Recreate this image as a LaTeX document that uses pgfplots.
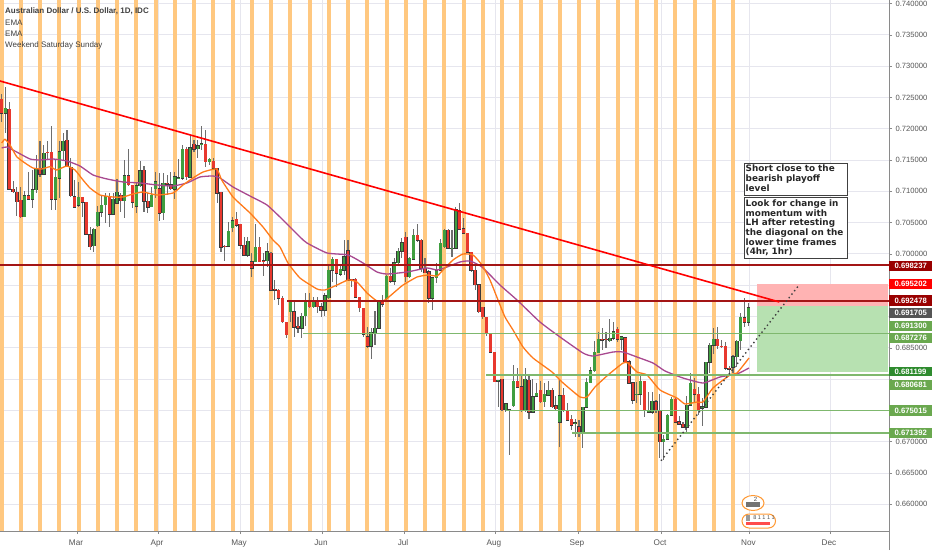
\documentclass[border=0pt]{standalone}
\usepackage{fontspec}
\setmainfont{Liberation Sans}
\newfontfamily\annofont{DejaVu Sans}
\usepackage{pgfplots}
\usepackage{pgfplotstable}
\pgfplotsset{compat=1.18}
\definecolor{gridc}{HTML}{E6E6EE}
\definecolor{axisc}{HTML}{8A8A8A}
\definecolor{tickt}{HTML}{555555}
\definecolor{band}{HTML}{FFC880}
\definecolor{candr}{HTML}{E8382E}
\definecolor{candg}{HTML}{3F9E3F}
\definecolor{candb}{HTML}{3A3A3A}
\definecolor{wick}{HTML}{6E6E6E}
\definecolor{ema1}{HTML}{FF7A1A}
\definecolor{ema2}{HTML}{A8488F}
\definecolor{dred}{HTML}{A31515}
\definecolor{lgreen}{HTML}{7FB86E}
\definecolor{boxg}{HTML}{6AA84F}
\definecolor{boxdg}{HTML}{2E8B2E}
\definecolor{boxdr}{HTML}{990000}
\definecolor{posr}{HTML}{FFB3B3}
\definecolor{posg}{HTML}{B7E1B1}

% i top-of-body bottom-of-body high low
\pgfplotstableread{
i t b h l
1 0.72325 0.72245 0.72661 0.71937
6 0.70930 0.70595 0.71010 0.70584
8 0.71021 0.70872 0.71340 0.70728
9 0.71367 0.71021 0.71580 0.70967
11 0.71606 0.71271 0.71740 0.71260
14 0.71228 0.70872 0.71500 0.70700
15 0.71633 0.71207 0.71803 0.70888
16 0.71803 0.71644 0.71937 0.71500
20 0.70904 0.70781 0.71154 0.70744
24 0.70392 0.70131 0.70408 0.70036
25 0.70669 0.70446 0.70765 0.70435
26 0.70776 0.70664 0.70941 0.70595
27 0.70914 0.70786 0.70967 0.70488
29 0.70872 0.70632 0.70967 0.70621
30 0.70983 0.70808 0.71191 0.70797
32 0.71250 0.70850 0.71500 0.70568
35 0.71090 0.70765 0.71154 0.70659
36 0.71330 0.71090 0.71484 0.71074
39 0.70941 0.70755 0.71074 0.70744
40 0.71154 0.71037 0.71314 0.70888
42 0.71127 0.70659 0.71298 0.70542
45 0.71234 0.71031 0.71303 0.70872
46 0.71218 0.71202 0.71511 0.71191
47 0.71670 0.71207 0.71740 0.71180
49 0.71692 0.71223 0.71899 0.71207
51 0.71724 0.71681 0.71820 0.71527
52 0.71756 0.71745 0.72043 0.71660
54 0.71511 0.71473 0.71527 0.71420
59 0.70366 0.70126 0.70504 0.70115
60 0.70531 0.70419 0.70595 0.70355
64 0.70206 0.69982 0.70275 0.69956
66 0.70105 0.69876 0.70478 0.69876
69 0.70036 0.69887 0.70179 0.69796
75 0.69237 0.69077 0.69264 0.68918
78 0.69008 0.68811 0.69050 0.68651
79 0.69226 0.69013 0.69370 0.68848
81 0.69237 0.69157 0.69317 0.69130
84 0.69333 0.69104 0.69370 0.69013
85 0.69743 0.69301 0.69823 0.69280
86 0.69918 0.69743 0.69956 0.69556
88 0.69753 0.69679 0.69823 0.69647
89 0.69956 0.69743 0.70222 0.69663
96 0.68747 0.68529 0.68811 0.68316
97 0.68811 0.68742 0.69088 0.68545
98 0.69226 0.68811 0.69237 0.68800
100 0.69647 0.69280 0.69663 0.69264
102 0.69860 0.69567 0.69929 0.69503
103 0.70046 0.69860 0.70089 0.69823
104 0.70179 0.70046 0.70249 0.69929
106 0.69929 0.69636 0.69956 0.69610
107 0.70302 0.69913 0.70392 0.69903
112 0.69620 0.69290 0.69636 0.69104
113 0.69732 0.69620 0.69849 0.69530
114 0.70169 0.69743 0.70233 0.69732
115 0.70382 0.70115 0.70392 0.70100
117 0.70089 0.70079 0.70382 0.69956
118 0.70702 0.70089 0.70755 0.70073
129 0.67981 0.67970 0.67986 0.67560
131 0.67603 0.67507 0.67613 0.67480
133 0.67970 0.67576 0.68226 0.67560
136 0.67997 0.67496 0.68172 0.67480
138 0.67720 0.67469 0.67997 0.67453
139 0.67773 0.67730 0.67943 0.67720
141 0.67762 0.67640 0.67943 0.67549
142 0.67826 0.67746 0.67975 0.67730
145 0.67736 0.67310 0.67997 0.66910
149 0.67304 0.67294 0.67363 0.67081
151 0.67549 0.67155 0.67560 0.66894
152 0.67949 0.67549 0.68013 0.67539
153 0.68135 0.67943 0.68199 0.67933
154 0.68428 0.68135 0.68614 0.68119
155 0.68636 0.68423 0.68758 0.68412
158 0.68651 0.68614 0.68954 0.68598
159 0.68757 0.68651 0.68917 0.68624
161 0.68677 0.68640 0.68694 0.68465
165 0.67762 0.67751 0.67959 0.67613
166 0.67969 0.67756 0.68065 0.67586
168 0.67490 0.67469 0.67799 0.67453
169 0.67650 0.67469 0.67799 0.67442
172 0.67043 0.67000 0.67107 0.66707
173 0.67426 0.67043 0.67442 0.67027
174 0.67676 0.67426 0.67719 0.67410
178 0.67586 0.67229 0.67730 0.67123
179 0.67932 0.67586 0.68092 0.67586
182 0.67559 0.67533 0.67692 0.67250
183 0.68267 0.67549 0.68278 0.67533
184 0.68544 0.68267 0.68571 0.68102
185 0.68635 0.68539 0.68811 0.68401
190 0.68358 0.68188 0.68385 0.68092
191 0.68608 0.68358 0.68624 0.68198
192 0.68986 0.68614 0.69050 0.68465
194 0.69140 0.68906 0.69210 0.68848
}\upbars
\pgfplotstableread{
i t b h l
0 0.72474 0.72245 0.72554 0.72112
2 0.72309 0.71031 0.72432 0.71031
3 0.71031 0.70994 0.71165 0.70967
4 0.70983 0.70834 0.71074 0.70605
5 0.70861 0.70595 0.71063 0.70568
7 0.70930 0.70872 0.71314 0.70861
10 0.71367 0.71271 0.71809 0.71234
12 0.71622 0.71612 0.71809 0.71500
13 0.71622 0.70877 0.72049 0.70700
17 0.71819 0.71404 0.71979 0.71383
18 0.71383 0.70930 0.71527 0.70904
19 0.70914 0.70744 0.71181 0.70728
21 0.70904 0.70824 0.70914 0.70595
22 0.70824 0.70313 0.70829 0.70302
23 0.70307 0.70115 0.70435 0.70062
28 0.70914 0.70637 0.70967 0.70424
31 0.70941 0.70850 0.70967 0.70675
33 0.71250 0.71101 0.71676 0.71085
34 0.71095 0.70824 0.71095 0.70728
37 0.71340 0.70845 0.71404 0.70675
38 0.70845 0.70744 0.70967 0.70648
41 0.71037 0.70648 0.71287 0.70531
43 0.71127 0.71111 0.71260 0.70941
44 0.71101 0.71037 0.71314 0.71021
48 0.71670 0.71234 0.71713 0.71180
50 0.71750 0.71670 0.71820 0.71633
53 0.71750 0.71473 0.71979 0.71393
55 0.71484 0.71367 0.71527 0.71340
56 0.71367 0.70967 0.71367 0.70818
57 0.70983 0.70110 0.70989 0.70036
58 0.70126 0.70115 0.70142 0.69892
61 0.70552 0.70456 0.70675 0.70435
62 0.70472 0.70142 0.70478 0.70073
63 0.70142 0.69982 0.70275 0.69966
65 0.69876 0.69769 0.70009 0.69626
67 0.70110 0.69876 0.70275 0.69871
68 0.69892 0.69876 0.70009 0.69647
70 0.70009 0.69423 0.70036 0.69413
71 0.69434 0.69423 0.69583 0.69263
72 0.69423 0.69290 0.69434 0.69184
73 0.69290 0.68918 0.69327 0.68891
74 0.68907 0.68705 0.68918 0.68651
76 0.69077 0.68827 0.69237 0.68678
77 0.68848 0.68811 0.68997 0.68731
80 0.69226 0.69157 0.69370 0.69130
82 0.69237 0.69157 0.69317 0.69050
83 0.69157 0.69104 0.69210 0.68997
87 0.69913 0.69690 0.69918 0.69476
90 0.70052 0.69583 0.70222 0.69583
91 0.69594 0.69583 0.69604 0.69476
92 0.69599 0.69306 0.69620 0.69290
93 0.69306 0.69141 0.69317 0.69077
94 0.69130 0.68715 0.69130 0.68678
95 0.68678 0.68529 0.68838 0.68491
99 0.69237 0.69199 0.69343 0.69157
101 0.69647 0.69567 0.69769 0.69530
105 0.70265 0.69636 0.70355 0.69556
108 0.70302 0.70222 0.70478 0.70195
109 0.70222 0.69769 0.70233 0.69716
110 0.69769 0.69700 0.69929 0.69690
111 0.69716 0.69290 0.69743 0.69210
116 0.70382 0.70089 0.70392 0.70073
119 0.70691 0.70398 0.70808 0.70382
120 0.70398 0.70329 0.70568 0.70329
121 0.70329 0.70025 0.70340 0.70009
122 0.70025 0.69743 0.70036 0.69717
123 0.69743 0.69504 0.69823 0.69424
124 0.69504 0.69078 0.69514 0.69051
125 0.69147 0.68998 0.69158 0.68955
126 0.68987 0.68731 0.68998 0.68689
127 0.68715 0.68428 0.68721 0.68412
128 0.68428 0.67959 0.68439 0.67949
130 0.67997 0.67507 0.68002 0.67491
132 0.67507 0.67496 0.67507 0.66788
134 0.67970 0.67869 0.68172 0.67853
135 0.67880 0.67496 0.68077 0.67480
137 0.67986 0.67469 0.68066 0.67363
140 0.67826 0.67640 0.67975 0.67624
143 0.67826 0.67560 0.67853 0.67544
144 0.67571 0.67528 0.67730 0.67507
146 0.67746 0.67507 0.67853 0.67480
147 0.67496 0.67347 0.67613 0.67336
148 0.67358 0.67267 0.67427 0.67187
150 0.67241 0.67161 0.67347 0.67081
156 0.68635 0.68624 0.68811 0.68465
157 0.68640 0.68630 0.68757 0.68491
160 0.68800 0.68640 0.68837 0.68598
162 0.68662 0.68278 0.68667 0.68262
163 0.68278 0.67932 0.68305 0.67921
164 0.67943 0.67666 0.67959 0.67597
167 0.67969 0.67506 0.67975 0.67399
170 0.67639 0.67506 0.67666 0.67453
171 0.67495 0.67000 0.67762 0.66734
175 0.67676 0.67309 0.67692 0.67293
176 0.67320 0.67277 0.67410 0.67266
177 0.67282 0.67229 0.67320 0.67213
180 0.67841 0.67762 0.68012 0.67613
181 0.67762 0.67506 0.67879 0.67426
186 0.68635 0.68534 0.68827 0.68475
187 0.68528 0.68518 0.68624 0.68491
188 0.68528 0.68172 0.68598 0.68145
189 0.68172 0.68161 0.68209 0.68092
193 0.68981 0.68906 0.69290 0.68837
}\downbars
\pgfplotstableread{
x p
1.7 0.71772
5 0.71831
10 0.71740
16.7 0.71553
25 0.71452
33 0.71372
41.7 0.71356
50 0.71393
56.7 0.71340
66.7 0.71404
75 0.71340
83 0.71181
90 0.71053
100 0.70941
113 0.70909
123 0.70909
133 0.70957
143 0.70989
157 0.70941
173 0.70973
183 0.71101
193 0.71213
203 0.71308
216.7 0.71356
221.7 0.71181
233 0.70909
250 0.70654
263 0.70430
273 0.70222
280 0.70110
288 0.69855
300 0.69615
317 0.69440
325 0.69424
337 0.69503
348 0.69583
357 0.69551
367 0.69376
377 0.69248
385 0.69264
397 0.69424
403 0.69503
417 0.69631
428 0.69663
437 0.69647
443 0.69743
453 0.69903
463 0.69999
473 0.69983
482 0.69823
490 0.69583
498 0.69264
505 0.68992
513 0.68785
523 0.68513
533 0.68337
552 0.68114
562 0.67954
580 0.67714
587 0.67714
595 0.67874
608 0.68066
623 0.68257
628 0.68257
637 0.68114
647 0.68066
660 0.67826
677 0.67698
685 0.67603
697 0.67634
703 0.67634
713 0.67858
730 0.68066
737 0.68098
749 0.68337
}\emafast
\pgfplotstableread{
x p
1.7 0.71692
6.7 0.71708
16.7 0.71628
30 0.71516
40 0.71500
53 0.71516
67 0.71484
80 0.71404
93 0.71261
107 0.71197
123 0.71149
140 0.71133
157 0.71101
173 0.71085
187 0.71133
200 0.71229
213 0.71245
220 0.71213
233 0.71069
250 0.70925
267 0.70781
283 0.70542
300 0.70270
307 0.70174
327 0.70015
348 0.69983
363 0.69855
377 0.69711
387 0.69679
407 0.69711
427 0.69775
437 0.69743
447 0.69791
460 0.69871
470 0.69887
482 0.69791
500 0.69503
517 0.69264
540 0.68912
560 0.68673
583 0.68417
593 0.68369
613 0.68433
623 0.68433
637 0.68353
653 0.68257
665 0.68130
683 0.68018
703 0.67938
720 0.68034
737 0.68082
749 0.68178
}\emaslow

\newcommand{\pricebox}[4]{%
  \fill[#3] (889pt,{(550-#1)*1pt}) rectangle (932pt,{(550-#2)*1pt});
  \node[anchor=west,inner sep=0pt,text=white,font=\fontsize{7.7}{9}\selectfont\bfseries]
    at (894.5pt,{(550-(#1+#2)/2)*1pt}) {#4};}

\begin{document}
\begin{tikzpicture}
\path[use as bounding box] (0pt,0pt) rectangle (932pt,550pt);
\begin{axis}[
  at={(0pt,19pt)}, anchor=south west, scale only axis,
  width=889pt, height=531pt,
  xmin=0, xmax=889, ymin=0.65574, ymax=0.74056,
  axis x line*=bottom, axis y line*=right,
  axis line style={axisc, line width=0.8pt},
  tick align=outside, tickwidth=3pt,
  tick style={axisc, line width=0.6pt},
  grid=major, grid style={gridc, line width=0.9pt},
  xtick={77,158,240,322,404,495,578,661,749.5,830},
  xticklabels={Mar,Apr,May,Jun,Jul,Aug,Sep,Oct,Nov,Dec},
  xticklabel style={font=\fontsize{8.2}{10}\selectfont, text=tickt, yshift=-2pt, xshift=-1pt},
  ytick={0.66,0.665,0.67,0.675,0.68,0.685,0.69,0.695,0.70,0.705,0.71,0.715,0.72,0.725,0.73,0.735,0.74},
  yticklabels={0.660000,0.665000,0.670000,,,0.685000,,,0.700000,0.705000,0.710000,0.715000,0.720000,0.725000,0.730000,0.735000,0.740000},
  yticklabel style={font=\fontsize{7.6}{9}\selectfont, text=tickt},
  clip=true,
]
% weekend bands
\addplot[ycomb, band, line width=4pt, mark=none, forget plot] coordinates {
(1.5,0.75)(20.75,0.75)(40,0.75)(59.25,0.75)(78.5,0.75)(97.75,0.75)(117,0.75)(136.25,0.75)(155.5,0.75)(174.75,0.75)
(194,0.75)(213.25,0.75)(232.5,0.75)(251.75,0.75)(271,0.75)(290.25,0.75)(309.5,0.75)(328.75,0.75)(348,0.75)(367.25,0.75)
(386.5,0.75)(405.75,0.75)(425,0.75)(444.25,0.75)(463.5,0.75)(482.75,0.75)(502,0.75)(521.25,0.75)(540.5,0.75)(559.75,0.75)
(579,0.75)(598.25,0.75)(617.5,0.75)(636.75,0.75)(656,0.75)(675.25,0.75)(694.5,0.75)(713.75,0.75)(733,0.75)};
% wicks
\pgfplotsset{wickstyle/.style={draw=none, mark=none, forget plot,
   error bars/.cd, y dir=both, y explicit, error mark=none,
   error bar style={draw=wick, line width=1.1pt, solid}}}
\addplot[wickstyle] table[x expr=1.5+3.85*\thisrow{i}, y=t, y error plus expr=\thisrow{h}-\thisrow{t}, y error minus expr=\thisrow{t}-\thisrow{l}] {\upbars};
\addplot[wickstyle] table[x expr=1.5+3.85*\thisrow{i}, y=t, y error plus expr=\thisrow{h}-\thisrow{t}, y error minus expr=\thisrow{t}-\thisrow{l}] {\downbars};
% bodies: outline then fill
\pgfplotsset{bodyline/.style={draw=none, mark=none, forget plot,
   error bars/.cd, y dir=both, y explicit, error mark=none,
   error bar style={draw=candb, line width=3.5pt, solid}},
   bodyfill/.style 2 args={draw=none, mark=none, forget plot,
   error bars/.cd, y dir=minus, y explicit, error mark=none,
   error bar style={draw=#1, line width=#2, solid}}}
\addplot[bodyline] table[x expr=1.5+3.85*\thisrow{i}, y=t, y error plus expr=0.00008, y error minus expr=\thisrow{t}-\thisrow{b}+0.00008] {\upbars};
\addplot[bodyline] table[x expr=1.5+3.85*\thisrow{i}, y=t, y error plus expr=0.00008, y error minus expr=\thisrow{t}-\thisrow{b}+0.00008] {\downbars};
\addplot[bodyfill={candg}{2.6pt}] table[x expr=1.5+3.85*\thisrow{i}, y=t, y error minus expr=\thisrow{t}-\thisrow{b}] {\upbars};
\addplot[bodyfill={candr}{2.6pt}] table[x expr=1.5+3.85*\thisrow{i}, y=t, y error minus expr=\thisrow{t}-\thisrow{b}] {\downbars};
% EMAs
\addplot[ema2, line width=1.3pt, smooth, tension=0.3, mark=none, forget plot] table[x=x,y=p] {\emaslow};
\addplot[ema1, line width=1.3pt, smooth, tension=0.3, mark=none, forget plot] table[x=x,y=p] {\emafast};
% position tool
\addplot[fill=posr, draw=none, forget plot] coordinates {(757.3,0.695202)(888.3,0.695202)(888.3,0.691705)(757.3,0.691705)} --cycle;
\addplot[fill=posg, draw=none, forget plot] coordinates {(757.3,0.691705)(888.3,0.691705)(888.3,0.681199)(757.3,0.681199)} --cycle;
% horizontal levels
\addplot[dred, line width=1.2pt, forget plot] coordinates {(0,0.698237)(889,0.698237)};
\addplot[dred, line width=1.2pt, forget plot] coordinates {(287,0.692478)(889,0.692478)};
\addplot[lgreen, line width=1.6pt, forget plot] coordinates {(303,0.687276)(889,0.687276)};
\addplot[lgreen, line width=2.2pt, forget plot] coordinates {(486,0.680681)(889,0.680681)};
\addplot[lgreen, line width=1.6pt, forget plot] coordinates {(506,0.675015)(889,0.675015)};
\addplot[lgreen, line width=1.6pt, forget plot] coordinates {(572,0.671392)(889,0.671392)};
% trend lines
\addplot[red, line width=1.6pt, forget plot] coordinates {(0,0.72762)(779.3,0.69232)};
\addplot[black!75, line width=1.4pt, dash pattern=on 1.4pt off 3pt, forget plot] coordinates {(661,0.66697)(798.3,0.69487)};
\end{axis}
% legend text
\node[anchor=west,inner sep=0pt,font=\fontsize{8}{10}\selectfont\bfseries,text=black!75] at (5pt,539pt) {Australian Dollar / U.S. Dollar, 1D, IDC};
\node[anchor=west,inner sep=0pt,font=\fontsize{8}{10}\selectfont,text=black!75] at (5pt,527pt) {EMA};
\node[anchor=west,inner sep=0pt,font=\fontsize{8}{10}\selectfont,text=black!75] at (5pt,516pt) {EMA};
\node[anchor=west,inner sep=0pt,font=\fontsize{8}{10}\selectfont,text=black!75] at (5pt,504.5pt) {Weekend Saturday Sunday};
% right axis runs down to the image edge
\draw[axisc, line width=0.8pt] (889.4pt,0pt) -- (889.4pt,19pt);
% price labels
\pricebox{260.7}{270.7}{boxdr}{0.698237}
\pricebox{279.3}{288.5}{red}{0.695202}
\pricebox{295}{306}{boxdr}{0.692478}
\pricebox{308}{318}{tickt}{0.691705}
\pricebox{321}{331}{boxg}{0.691300}
\pricebox{333}{343}{boxg}{0.687276}
\pricebox{367}{376}{boxdg}{0.681199}
\pricebox{380}{390}{boxg}{0.680681}
\pricebox{405}{416}{boxg}{0.675015}
\pricebox{428}{438}{boxg}{0.671392}
% annotation boxes
\draw[black!75, line width=0.9pt, fill=white] (744pt,{(550-163.3)*1pt}) rectangle (847pt,{(550-195.3)*1pt});
\draw[black!75, line width=0.9pt, fill=white] (744pt,{(550-197.7)*1pt}) rectangle (847pt,{(550-258.7)*1pt});
\node[anchor=north west,inner sep=0pt,align=left,font=\annofont\fontsize{8.85}{9.7}\selectfont\bfseries,text=black!85] at (745.5pt,{(550-165)*1pt})
  {Short close to the\\bearish playoff\\level};
\node[anchor=north west,inner sep=0pt,align=left,font=\annofont\fontsize{8.85}{9.7}\selectfont\bfseries,text=black!85] at (745.5pt,{(550-199.5)*1pt})
  {Look for change in\\momentum with\\LH after retesting\\the diagonal on the\\lower time frames\\(4hr, 1hr)};
% event icons
\draw[orange!80, line width=1pt, fill=white] (753pt,47pt) ellipse (11pt and 7.5pt);
\fill[black!55] (746pt,43pt) rectangle (760pt,48pt);
\node[inner sep=0pt,font=\fontsize{6}{7}\selectfont,text=black!70] at (755.5pt,50.5pt) {2};
\draw[orange!80, line width=1pt, fill=white, rounded corners=7pt] (742pt,22pt) rectangle (775.5pt,36pt);
\fill[red!70] (746pt,25pt) rectangle (770pt,28pt);
\fill[black!40] (746pt,29pt) rectangle (750pt,35pt);
\node[inner sep=0pt,font=\fontsize{5.5}{6}\selectfont,text=black!70] at (764pt,32pt) {8 1 1 1 1};
\end{tikzpicture}
\end{document}
